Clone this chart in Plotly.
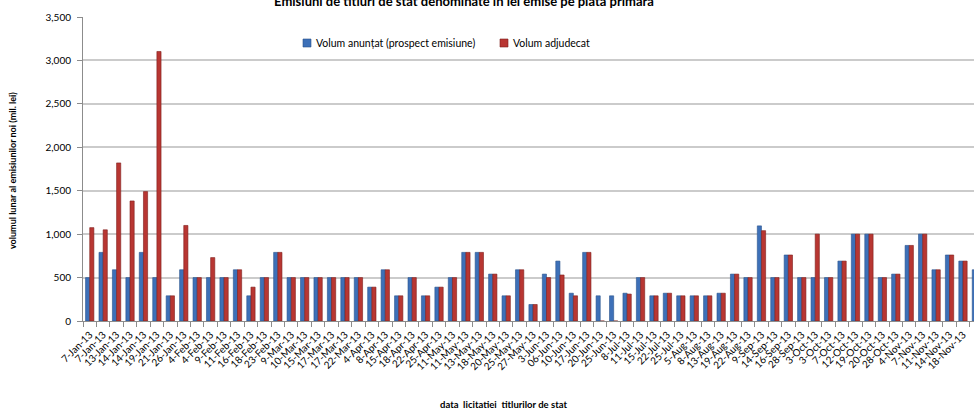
import plotly.graph_objects as go

dates = ["7-Jan-13", "7-Jan-13", "13-Jan-13", "14-Jan-13", "14-Jan-13", "19-Jan-13", "21-Jan-13", "26-Jan-13",
         "4-Feb-13", "4-Feb-13", "9-Feb-13", "11-Feb-13", "16-Feb-13", "18-Feb-13", "23-Feb-13",
         "9-Mar-13", "10-Mar-13", "15-Mar-13", "17-Mar-13", "17-Mar-13", "22-Mar-13",
         "4-Apr-13", "8-Apr-13", "15-Apr-13", "18-Apr-13", "22-Apr-13", "25-Apr-13",
         "11-May-13", "11-May-13", "13-May-13", "18-May-13", "20-May-13", "25-May-13", "27-May-13",
         "3-Jun-13", "06-Jun-13", "10-Jun-13", "17-Jun-13", "20-Jun-13", "25-Jun-13",
         "8-Jul-13", "11-Jul-13", "15-Jul-13", "22-Jul-13", "25-Jul-13",
         "5-Aug-13", "8-Aug-13", "13-Aug-13", "19-Aug-13", "22-Aug-13",
         "9-Sep-13", "14-Sep-13", "16-Sep-13", "28-Sep-13",
         "3-Oct-13", "3-Oct-13", "7-Oct-13", "12-Oct-13", "19-Oct-13", "20-Oct-13", "28-Oct-13",
         "4-Nov-13", "7-Nov-13", "11-Nov-13", "14-Nov-13", "18-Nov-13", "25-Nov-13"]

anuntat = [500, 790, 590, 500, 790, 500, 290, 590,
           500, 500, 500, 590, 290, 500, 790,
           500, 500, 500, 500, 500, 500,
           390, 590, 290, 500, 290, 390,
           500, 790, 790, 540, 290, 590, 190,
           540, 690, 320, 790, 290, 290,
           320, 500, 290, 320, 290,
           290, 290, 320, 540, 500,
           1095, 500, 760, 500,
           500, 500, 690, 1000, 1000, 500, 540,
           870, 1000, 590, 760, 690, 590]

adjudecat = [1075, 1050, 1820, 1382, 1490, 3103, 290, 1100,
             500, 730, 500, 590, 390, 500, 790,
             500, 500, 500, 500, 500, 500,
             390, 590, 290, 500, 290, 390,
             500, 790, 790, 540, 290, 590, 190,
             500, 530, 290, 790, 0, 0,
             310, 500, 290, 320, 290,
             290, 290, 320, 540, 500,
             1040, 500, 760, 500,
             1000, 500, 690, 1000, 1000, 500, 540,
             870, 1000, 590, 760, 690, 590]

y_ticks = [0, 500, 1000, 1500, 2000, 2500, 3000, 3500]

series_names = ["Volum anunțat (prospect emisiune)", "Volum adjudecat"]
blue = "#3d70b8"
red = "#b83632"

idx = list(range(len(dates)))

fig = go.Figure()
fig.add_trace(go.Bar(x=idx, y=anuntat, name=series_names[0], marker=dict(color=blue, line=dict(color="#28528c", width=0.6)), showlegend=False))
fig.add_trace(go.Bar(x=idx, y=adjudecat, name=series_names[1], marker=dict(color=red, line=dict(color="#7e1e1b", width=0.6)), showlegend=False))

L, T, B = 83, 17, 90
W, H = 974, 411
pw = W - L
ph = H - T - B

def px(x):
    return (x - L) / pw

def py(y):
    return (H - B - y) / ph

fig.update_layout(
    width=W, height=H,
    margin=dict(l=L, r=0, t=T, b=B, autoexpand=False),
    paper_bgcolor="white", plot_bgcolor="white",
    barmode="group", bargap=0.38, bargroupgap=0.0,
    font=dict(family="Lato", color="#000000"),
    title=dict(text="Emisiuni de titluri de stat denominate in lei emise pe piata primara",
               x=464 / W, xanchor="center", xref="container",
               y=1 - 1 / H, yanchor="middle", yref="container",
               font=dict(family="Lato", size=13, weight="bold", color="#000000")),
)

fig.update_xaxes(
    automargin=False,
    range=[-0.5, 65.82],
    tickmode="array", tickvals=idx, ticktext=dates, tickangle=-45,
    tickfont=dict(family="Lato", size=10, color="#000000"),
    ticks="outside", ticklen=3, tickcolor="rgba(0,0,0,0)",
    minor=dict(tickmode="linear", tick0=-0.5, dtick=1, ticks="outside", ticklen=5, tickcolor="#8c8c8c", showgrid=False),
    showline=True, linecolor="#8c8c8c", linewidth=1,
    showgrid=False, zeroline=False,
)

fig.update_yaxes(
    automargin=False,
    range=[0, 3500], tickmode="array", tickvals=y_ticks, tickformat=",",
    tickfont=dict(family="Lato", size=10, color="#000000"),
    ticks="outside", ticklen=5, tickcolor="#8c8c8c", ticklabelstandoff=4,
    showline=True, linecolor="#8c8c8c", linewidth=1,
    showgrid=True, gridcolor="#cbcbcb", gridwidth=2, zeroline=False,
)

# y axis title
fig.add_annotation(text="<b>volumul lunar al emisiunilor noi (mil. lei)</b>", textangle=-90,
                   xref="paper", yref="paper", x=px(12), y=py(171), xanchor="center", yanchor="middle",
                   showarrow=False, font=dict(family="Lato", size=9, color="#000000"))
# x axis title
fig.add_annotation(text="<b>data  licitatiei  titlurilor de stat</b>",
                   xref="paper", yref="paper", x=px(503), y=py(404), xanchor="center", yanchor="middle",
                   showarrow=False, font=dict(family="Lato", size=9.5, color="#000000"))

# legend (manual)
leg_y = 43
for sx, tx, color, edge, name in [(303, 314, blue, "#28528c", series_names[0]), (500, 511, red, "#7e1e1b", series_names[1])]:
    fig.add_shape(type="rect", xref="paper", yref="paper",
                  x0=px(sx), x1=px(sx + 8), y0=py(leg_y + 4), y1=py(leg_y - 4),
                  fillcolor=color, line=dict(color=edge, width=0.6))
    fig.add_annotation(text=name, xref="paper", yref="paper", x=px(tx), y=py(leg_y),
                       xanchor="left", yanchor="middle", showarrow=False,
                       font=dict(family="Lato", size=10.5, color="#000000"))

fig.write_html("out.html", config={"displayModeBar": False},
               post_script="document.body.style.margin='0px';document.body.style.overflow='hidden';")
